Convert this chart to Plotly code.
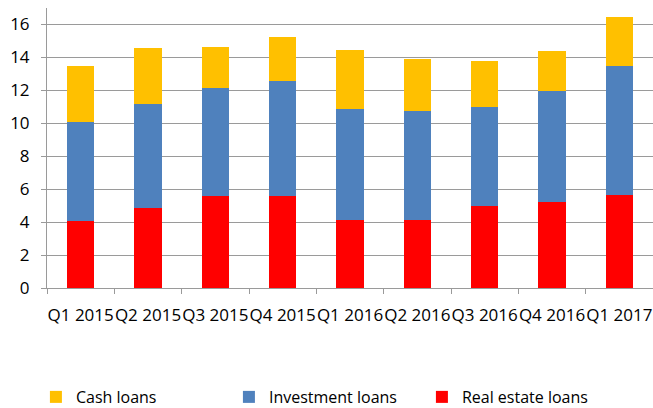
import plotly.graph_objects as go

quarters = ["Q1 2015", "Q2 2015", "Q3 2015", "Q4 2015", "Q1 2016",
            "Q2 2016", "Q3 2016", "Q4 2016", "Q1 2017"]
real_estate = [4.05, 4.85, 5.56, 5.56, 4.12, 4.12, 4.95, 5.21, 5.62]
investment = [6.05, 6.35, 6.61, 6.99, 6.77, 6.65, 6.02, 6.75, 7.84]
cash = [3.35, 3.35, 2.45, 2.68, 3.53, 3.16, 2.82, 2.40, 3.00]

FONT = "Open Sans"
fig = go.Figure()
fig.add_trace(go.Bar(x=quarters, y=real_estate, name="Real estate loans",
                     marker=dict(color="#FF0000", line=dict(width=0))))
fig.add_trace(go.Bar(x=quarters, y=investment, name="Investment loans",
                     marker=dict(color="#4F81BD", line=dict(width=0))))
fig.add_trace(go.Bar(x=quarters, y=cash, name="Cash loans",
                     marker=dict(color="#FFC000", line=dict(width=0))))

fig.update_layout(
    width=653, height=408,
    margin=dict(l=47, r=0, t=8, b=120, autoexpand=False),
    barmode="stack", bargap=0.595,
    plot_bgcolor="white", paper_bgcolor="white",
    font=dict(family=FONT, size=17, color="#000000"),
    showlegend=True,
    legend=dict(orientation="h", traceorder="reversed",
                x=0.055, xanchor="left", xref="container",
                y=0.027, yanchor="middle", yref="container",
                font=dict(family=FONT, size=16, color="#000000"),
                itemwidth=30, entrywidth=148, entrywidthmode="pixels"),
)
fig.update_xaxes(showline=True, linecolor="#9a9a9a", linewidth=1,
                 ticks="outside", tickson="boundaries", ticklen=5,
                 tickcolor="#9a9a9a", showgrid=False, tickangle=0,
                 ticklabelstandoff=12,
                 automargin=False, tickfont=dict(family=FONT, size=17))
fig.update_yaxes(range=[0, 17], dtick=2, tick0=0, showline=True,
                 linecolor="#9a9a9a", linewidth=1, ticks="outside", ticklen=5,
                 tickcolor="#9a9a9a", showgrid=True, gridcolor="#9a9a9a",
                 gridwidth=1, zeroline=False, ticklabelstandoff=8,
                 automargin=False, tickfont=dict(family=FONT, size=17))

fig.write_html("out.html")
